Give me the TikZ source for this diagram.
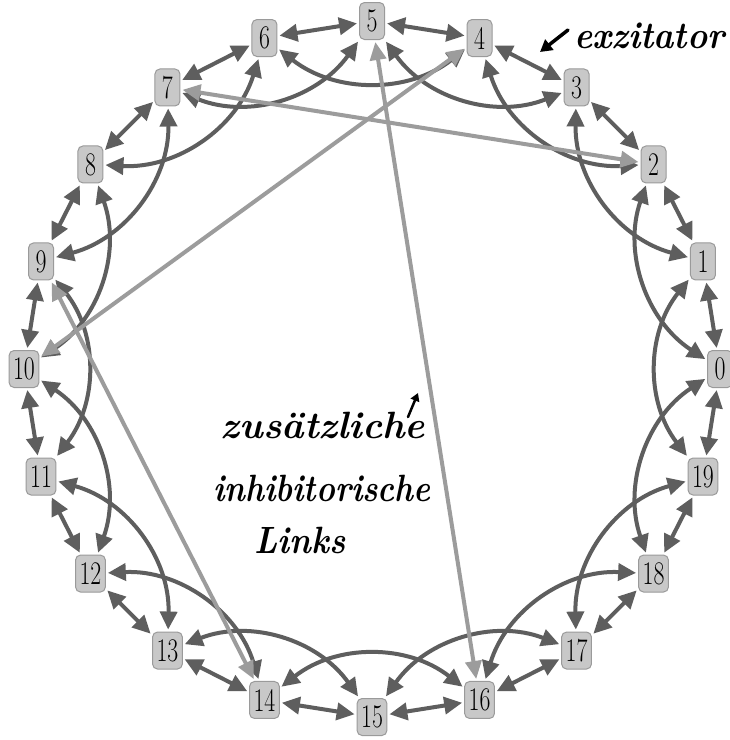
\documentclass[tikz,border=0pt]{standalone}
\usepackage{fontspec}
\usetikzlibrary{arrows.meta}
\definecolor{nodefill}{HTML}{C8C8C8}
\definecolor{nodeborder}{HTML}{9A9A9A}
\definecolor{excgray}{HTML}{5E5E5E}
\definecolor{inhgray}{HTML}{9C9C9C}
\tikzset{
  nbox/.style={draw=nodeborder, fill=nodefill, rounded corners=5pt, minimum width=25pt,
    minimum height=37pt, inner xsep=4pt, inner ysep=2pt, line width=1pt,
    font=\fontsize{33}{35}\selectfont, text=black},
  exc/.style={draw=excgray, line width=4pt,
    {Triangle[length=18pt,width=17pt]}-{Triangle[length=18pt,width=17pt]},
    shorten <=2pt, shorten >=2pt},
  inh/.style={draw=inhgray, line width=4pt,
    {Triangle[length=18pt,width=16pt]}-{Triangle[length=18pt,width=16pt]},
    shorten <=2pt, shorten >=2pt},
  hand/.style={font=\fontsize{38}{40}\selectfont\bfseries\itshape, text=black, inner sep=0pt},
  handarrow/.style={draw=black, line width=3.5pt, line cap=round, -{Triangle[length=12pt,width=13pt]}}
}
\begin{document}
\begin{tikzpicture}[x=1pt,y=1pt]
\useasboundingbox (0,0) rectangle (730,-740);
\fill[white] (0,0) rectangle (730,-740);
% nodes
\foreach \i in {0,...,19} {
  \node[nbox] (n\i) at ({372+348*cos(18*\i)},{-369+348*sin(18*\i)}) {\scalebox{0.72}[1]{\i}};
}
% excitatory edges
\foreach \i in {0,...,19} {
  \pgfmathtruncatemacro{\j}{mod(\i+1,20)}
  \pgfmathtruncatemacro{\k}{mod(\i+2,20)}
  \draw[exc] (n\i) -- (n\j);
  \draw[exc] (n\i) to[bend left=38] (n\k);
}
% inhibitory edges
\draw[inh] (n7) -- (n2);
\draw[inh] (n10) -- (n4);
\draw[inh] (n5) -- (n16);
\draw[inh] (n9) -- (n14);
% handwritten annotations
\node[hand, anchor=west] (exlab) at (574,-36) {\scalebox{0.9}[1]{exzitator}};
\coordinate (ea) at (568,-30);
\coordinate (eb) at (540,-52);
\draw[handarrow] (ea) -- (eb);
\node[hand] (l1) at (323,-425) {zusätzliche};
\node[hand] (l2) at (322,-488) {\scalebox{0.84}[1]{inhibitorische}};
\node[hand] (l3) at (300,-540) {\scalebox{0.88}[1]{Links}};
\coordinate (sa) at (408,-417);
\coordinate (sb) at (418,-393);
\draw[handarrow, line width=2.5pt, -{Triangle[length=8pt,width=9pt]}] (sa) -- (sb);
\end{tikzpicture}
\end{document}
